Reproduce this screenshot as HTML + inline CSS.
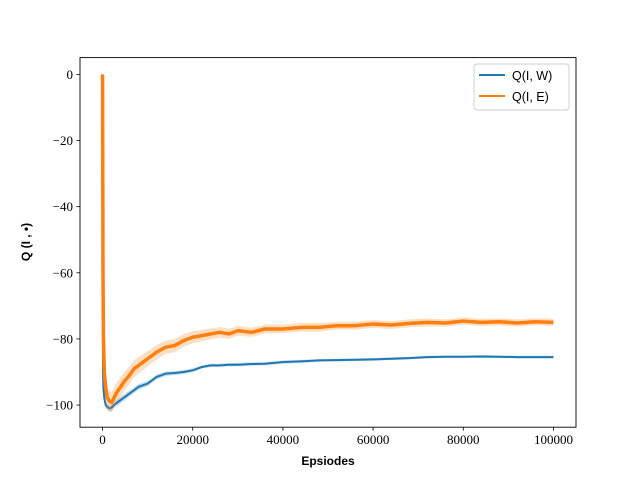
<!DOCTYPE html>
<html><head><meta charset="utf-8"><style>
body{margin:0;background:#fff}
svg text{font-family:"Liberation Serif",serif;font-size:13px;fill:#000}
</style></head><body>
<svg width="640" height="480" xmlns="http://www.w3.org/2000/svg">
<g id="marks"></g>
<rect x="80" y="57.6" width="496" height="369.6" fill="none" stroke="#000" stroke-width="0.9"/>
<g id="axes"></g>
<text x="328" y="465" text-anchor="middle" style="font-family:'Liberation Sans',sans-serif;font-weight:bold;font-size:12px">Epsiodes</text>
<text transform="translate(30,242) rotate(-90)" text-anchor="middle" style="font-family:'Liberation Sans',sans-serif;font-weight:bold;font-size:12px">Q (I , •)</text>
<g>
<rect x="474" y="64" width="95" height="46" rx="3" fill="#fff" stroke="#ccc" stroke-width="0.9"/>
<line x1="479" y1="75" x2="505" y2="75" stroke="#1f77b4" stroke-width="2"/>
<text x="512" y="80" style="font-family:'Liberation Sans',sans-serif;font-size:12.5px">Q(I, W)</text>
<line x1="479" y1="96" x2="505" y2="96" stroke="#ff7f0e" stroke-width="2"/>
<text x="512" y="101" style="font-family:'Liberation Sans',sans-serif;font-size:12.5px">Q(I, E)</text>
</g>
</svg>
<script>
const xTicks=[0,20000,40000,60000,80000,100000];
const yTicks=[0,-20,-40,-60,-80,-100];
const yTickLabels=["0","\u221220","\u221240","\u221260","\u221280","\u2212100"];
const episodes=[0,100,200,400,700,1000,1500,2000,2500,3000,4000,5000,6000,7000,8000,9000,10000,12000,14000,16000,18000,20000,22000,24000,26000,28000,30000,33000,36000,40000,44000,48000,52000,56000,60000,64000,68000,72000,76000,80000,84000,88000,92000,96000,100000];
const qW=[0,-90,-95,-98,-100,-100.5,-101,-100.8,-100,-99.5,-98.5,-97.5,-96.5,-95.5,-94.5,-94,-93.5,-91.5,-90.5,-90.3,-90,-89.5,-88.5,-88,-88,-87.8,-87.8,-87.6,-87.5,-87,-86.8,-86.5,-86.4,-86.3,-86.2,-86,-85.8,-85.5,-85.4,-85.4,-85.3,-85.4,-85.5,-85.5,-85.5];
const qE=[0,-60,-80,-90,-95,-97.5,-98.8,-99.2,-98,-96.5,-94.5,-92.5,-91,-89,-88,-87,-86,-84,-82.5,-82,-80.5,-79.5,-79,-78.5,-78,-78.5,-77.5,-78,-77,-77,-76.5,-76.5,-76,-76,-75.5,-75.8,-75.3,-75,-75.2,-74.6,-75,-74.8,-75.2,-74.8,-75];
const qESpread=[0,6,5,4,3.5,3.5,3.2,3,3,3,3,2.8,2.7,2.6,2.5,2.4,2.3,2.2,2,2,1.9,1.8,1.7,1.6,1.6,1.5,1.5,1.4,1.4,1.3,1.3,1.3,1.2,1.2,1.2,1.2,1.2,1.2,1.1,1.1,1.1,1.1,1.1,1.1,1.1];
const qWSpread=[0,3,2,1.5,1.2,1,1,1,1,1,1,1,0.9,0.9,0.9,0.8,0.8,0.7,0.7,0.6,0.6,0.6,0.5,0.5,0.5,0.5,0.5,0.5,0.5,0.5,0.5,0.4,0.4,0.4,0.4,0.4,0.4,0.4,0.4,0.4,0.4,0.4,0.4,0.4,0.4];
const NS="http://www.w3.org/2000/svg";
const X0=80,X1=576,Y0=57.6,Y1=427.2,XMIN=-5000,XMAX=105000,YMIN=-106.7,YMAX=5.08;
const sx=v=>X0+(v-XMIN)/(XMAX-XMIN)*(X1-X0);
const sy=v=>Y1-(v-YMIN)/(YMAX-YMIN)*(Y1-Y0);
const marks=document.getElementById('marks'),axes=document.getElementById('axes');
function mk(t,a,p){const e=document.createElementNS(NS,t);for(const k in a)e.setAttribute(k,a[k]);p.appendChild(e);return e;}
function band(ys,sp,col,name){
 let up=episodes.map((x,i)=>sx(x)+','+sy(ys[i]+sp[i]));
 let dn=episodes.map((x,i)=>sx(x)+','+sy(ys[i]-sp[i])).reverse();
 const e=mk('polygon',{points:up.concat(dn).join(' '),fill:col,opacity:0.25},marks);
 
 
}
function line(ys,col,w,name){
 const e=mk('polyline',{points:episodes.map((x,i)=>sx(x)+','+sy(ys[i])).join(' '),fill:'none',stroke:col,'stroke-width':w,'stroke-linejoin':'round'},marks);
 
 
}
band(qW,qWSpread,'#1f77b4','band-q-i-w');
line(qW,'#1f77b4',2,'line-q-i-w');
band(qE,qESpread,'#ff7f0e','band-q-i-e');
line(qE,'#ff7f0e',3.5,'line-q-i-e');
xTicks.forEach(v=>{
 const t=mk('line',{x1:sx(v),x2:sx(v),y1:Y1,y2:Y1+3.5,stroke:'#000','stroke-width':0.8},axes);
 
 
 const l=mk('text',{x:sx(v),y:Y1+17,'text-anchor':'middle'},axes);l.textContent=String(v);
 
 
});
yTicks.forEach((v,i)=>{
 const t=mk('line',{x1:X0-3.5,x2:X0,y1:sy(v),y2:sy(v),stroke:'#000','stroke-width':0.8},axes);
 
 
 const l=mk('text',{x:X0-7,y:sy(v)+4.5,'text-anchor':'end'},axes);l.textContent=yTickLabels[i];
 
 
});
</script>
</body></html>
